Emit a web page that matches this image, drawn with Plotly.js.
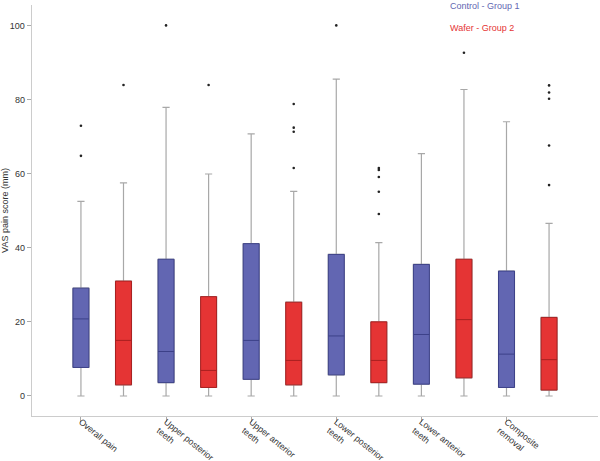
<!DOCTYPE html>
<html>
<head>
<meta charset="utf-8">
<script src="https://cdn.plot.ly/plotly-3.0.1.min.js"></script>
<style>html,body{margin:0;padding:0;background:#fff;}#chart{width:600px;height:461px;}</style>
</head>
<body>
<div id="chart"></div>
<script>
// Categories (tick labels)
var categories = ["Overall pain", "Upper posterior<br>teeth", "Upper anterior<br>teeth", "Lower posterior<br>teeth", "Lower anterior<br>teeth", "Composite<br>removal"];
var seriesNames = ["Control - Group 1", "Wafer - Group 2"];

// Control - Group 1
var controlQ1     = [7.7, 3.6, 4.5, 5.7, 3.2, 2.3];
var controlMedian = [20.8, 12.0, 15.0, 16.2, 16.6, 11.3];
var controlQ3     = [29.1, 36.9, 41.1, 38.2, 35.5, 33.7];
var controlLow    = [0, 0, 0, 0, 0, 0];
var controlHigh   = [52.5, 77.9, 70.7, 85.5, 65.4, 74.0];
var controlOutliers = [[72.9, 64.8], [100], [], [100], [], []];

// Wafer - Group 2
var waferQ1     = [3.0, 2.3, 3.0, 3.6, 4.9, 1.6];
var waferMedian = [15.0, 6.9, 9.6, 9.6, 20.6, 9.8];
var waferQ3     = [31.0, 26.8, 25.3, 20.0, 36.9, 21.2];
var waferLow    = [0, 0, 0, 0, 0, 0];
var waferHigh   = [57.5, 59.9, 55.2, 41.4, 82.7, 46.6];
var waferOutliers = [[83.9], [83.9], [78.8, 72.4, 71.3, 61.5], [61.5, 61.0, 59.1, 55.1, 49.1], [92.6], [83.8, 81.9, 80.2, 67.6, 56.9]];

var blueFill = "#6266b2", blueLine = "#3c4088";
var redFill = "#e53434", redLine = "#a82020";
var whiskerGray = "#a8a8a8";
var FONT = "Liberation Sans, Arial, sans-serif";

var catPos = categories.map(function(_, i){ return 2*i; });
var ctrlX = catPos.slice();
var wafX = catPos.map(function(p){ return p + 1; });

function whiskerTrace(x, q1, med, q3, lo, hi){
  return {type:"box", x:x, q1:q1, median:med, q3:q3, lowerfence:lo, upperfence:hi,
    width:0.375, whiskerwidth:0.45, boxpoints:false, showlegend:false, hoverinfo:"skip",
    line:{color:whiskerGray, width:1.2}, fillcolor:"rgba(0,0,0,0)"};
}
function boxTrace(name, x, q1, med, q3, fill, lineCol){
  return {type:"box", name:name, x:x, q1:q1, median:med, q3:q3, lowerfence:q1, upperfence:q3,
    width:0.375, whiskerwidth:0, boxpoints:false, showlegend:false,
    line:{color:lineCol, width:1}, fillcolor:fill};
}
function outlierTrace(x, outs){
  var ox = [], oy = [];
  outs.forEach(function(arr, i){ arr.forEach(function(v){ ox.push(x[i]); oy.push(v); }); });
  return {type:"scatter", mode:"markers", x:ox, y:oy, showlegend:false,
    marker:{color:"#222", size:2.6}, hoverinfo:"y"};
}

var data = [
  whiskerTrace(ctrlX, controlQ1, controlMedian, controlQ3, controlLow, controlHigh),
  whiskerTrace(wafX, waferQ1, waferMedian, waferQ3, waferLow, waferHigh),
  boxTrace(seriesNames[0], ctrlX, controlQ1, controlMedian, controlQ3, blueFill, blueLine),
  boxTrace(seriesNames[1], wafX, waferQ1, waferMedian, waferQ3, redFill, redLine),
  outlierTrace(ctrlX, controlOutliers),
  outlierTrace(wafX, waferOutliers)
];

var layout = {
  width:600, height:461,
  margin:{l:32, r:2, t:5, b:45},
  paper_bgcolor:"#fff", plot_bgcolor:"#fff",
  font:{family:FONT, size:9, color:"#333"},
  boxmode:"overlay",
  showlegend:false,
  xaxis:{type:"linear", range:[-1.15, 12.15], tickvals:catPos, ticktext:categories,
    tickangle:39, ticklabelstandoff:-9, automargin:false, showgrid:false, zeroline:false, showline:true, linecolor:"#cccccc", linewidth:1.3,
    ticks:"outside", ticklen:5, tickcolor:"#aaaaaa", tickwidth:1, tickfont:{family:FONT, size:8.8, color:"#333"}},
  yaxis:{range:[-5.4, 105.5], tickvals:[0,20,40,60,80,100], showgrid:false, zeroline:false, automargin:false,
    showline:true, linecolor:"#cccccc", linewidth:1.3, ticks:"outside", ticklen:4, tickcolor:"#aaaaaa",
    tickfont:{family:FONT, size:9, color:"#333"},
    title:{text:"VAS pain score (mm)", font:{family:FONT, size:9, color:"#333"}, standoff:4}},
  annotations:[
    {xref:"paper", yref:"paper", x:0.7346, y:0.998, xanchor:"left", yanchor:"middle", showarrow:false,
     text:seriesNames[0], font:{family:FONT, size:9, color:"#6266b2"}},
    {xref:"paper", yref:"paper", x:0.7346, y:0.943, xanchor:"left", yanchor:"middle", showarrow:false,
     text:seriesNames[1], font:{family:FONT, size:9, color:"#e53434"}}
  ]
};

Plotly.newPlot("chart", data, layout, {displayModeBar:false, staticPlot:true});
</script>
</body>
</html>
